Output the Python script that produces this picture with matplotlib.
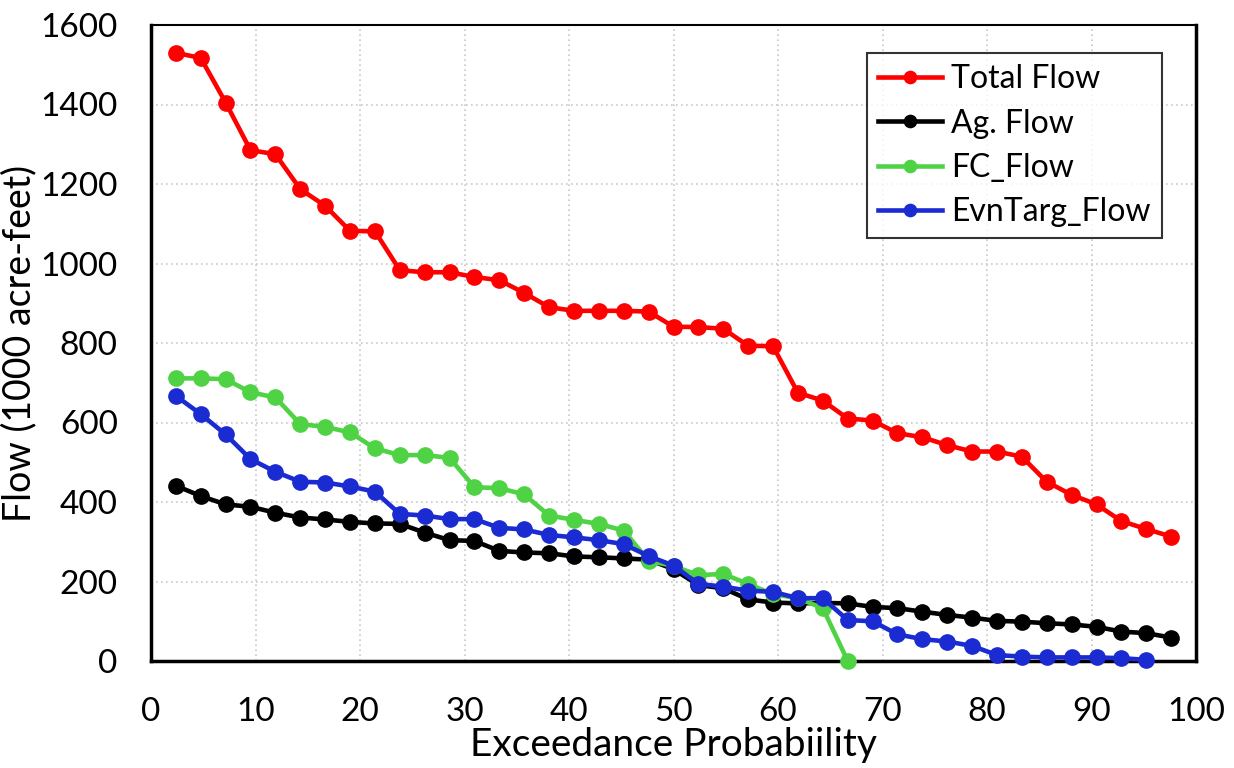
import matplotlib
matplotlib.use("Agg")
import matplotlib.pyplot as plt

x_prob = [2.38, 4.76, 7.14, 9.52, 11.90, 14.29, 16.67, 19.05, 21.43, 23.81,
          26.19, 28.57, 30.95, 33.33, 35.71, 38.10, 40.48, 42.86, 45.24, 47.62,
          50.00, 52.38, 54.76, 57.14, 59.52, 61.90, 64.29, 66.67, 69.05, 71.43,
          73.81, 76.19, 78.57, 80.95, 83.33, 85.71, 88.10, 90.48, 92.86, 95.24,
          97.62]

total_flow = [1530, 1517, 1405, 1285, 1275, 1187, 1145, 1082, 1081, 983,
              978, 978, 966, 958, 926, 890, 881, 881, 881, 879,
              841, 840, 836, 793, 792, 675, 655, 610, 605, 573,
              563, 543, 527, 527, 514, 451, 418, 394, 352, 332, 313]
ag_flow = [441, 415, 394, 388, 373, 361, 356, 350, 346, 345,
           323, 304, 302, 277, 273, 271, 263, 261, 258, 255,
           231, 191, 183, 155, 147, 145, 146, 145, 136, 133,
           124, 116, 109, 101, 99, 95, 92, 86, 74, 70, 59]
fc_flow = [711, 711, 709, 676, 663, 596, 589, 575, 535, 518,
           518, 511, 437, 435, 419, 366, 355, 345, 328, 252,
           239, 216, 219, 194, 168, 158, 133, 0]
evn_flow = [667, 621, 570, 508, 476, 451, 449, 439, 426, 370,
            366, 357, 357, 335, 331, 317, 311, 304, 294, 264,
            240, 194, 187, 177, 174, 158, 158, 103, 100, 67,
            55, 49, 38, 15, 11, 9, 9, 9, 7, 3]

series_names = ["Total Flow", "Ag. Flow", "FC_Flow", "EvnTarg_Flow"]
colors = ["#FF0000", "#000000", "#4FD345", "#1A2BD2"]

plt.rcParams['font.family'] = ['Lato', 'DejaVu Sans']

fig = plt.figure(figsize=(12.34, 7.68), dpi=100)
ax = fig.add_axes([151/1234, 1 - 661/768, (1196-151)/1234, (661-25)/768])

data = [total_flow, ag_flow, fc_flow, evn_flow]
for name, vals, c in zip(series_names, data, colors):
    ax.plot(x_prob[:len(vals)], vals, color=c, lw=3.3, marker='o', ms=11,
            label=name, clip_on=False, zorder=3)

ax.set_xlim(0, 100)
ax.set_ylim(0, 1600)
ax.set_xticks(range(0, 101, 10))
ax.set_yticks(range(0, 1601, 200))
ax.grid(True, color='#C8C8C8', linestyle=(0, (1, 2)), linewidth=1.2)
ax.set_axisbelow(True)
ax.tick_params(axis='both', length=0, labelsize=24)
ax.tick_params(axis='y', pad=24)
ax.tick_params(axis='x', pad=26)

for side in ['left', 'bottom', 'right']:
    ax.spines[side].set_linewidth(2.5)
ax.spines['top'].set_linewidth(1.5)

ax.set_xlabel("Exceedance Probabiility", fontsize=28)
ax.xaxis.set_label_coords(0.5, -(745 - 661) / 636, transform=ax.transAxes)
ax.xaxis.label.set_va('center')
ax.set_ylabel("Flow (1000 acre-feet)", fontsize=27)
ax.yaxis.set_label_coords(-(151 - 19) / 1045, 0.5, transform=ax.transAxes)
ax.yaxis.label.set_va('center')

leg = ax.legend(loc='upper right', bbox_to_anchor=((1162-151)/1045, (661-53)/636),
                borderaxespad=0, fontsize=23, frameon=True, fancybox=False,
                edgecolor='black', handlelength=2.0, handletextpad=0.3,
                labelspacing=0.45, borderpad=0.35, markerscale=0.8)
leg.get_frame().set_linewidth(1.5)

fig.savefig("out.png", dpi=100, facecolor='white')
